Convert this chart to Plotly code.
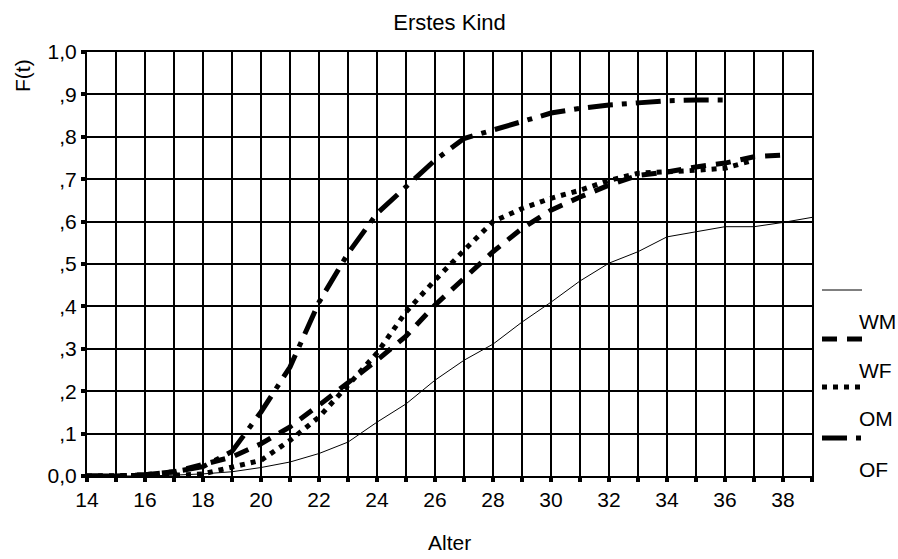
import plotly.graph_objects as go

ages = list(range(14, 40))

# series values (None = no value)
wm = [0.0, 0.0, 0.0, 0.002, 0.005, 0.01, 0.02, 0.033, 0.053, 0.08, 0.127, 0.17, 0.226,
      0.273, 0.311, 0.363, 0.41, 0.46, 0.502, 0.529, 0.564, 0.576, 0.588, 0.588, 0.598, 0.61]
wf = [0.0, 0.0, 0.003, 0.01, 0.027, 0.045, 0.076, 0.116, 0.167, 0.219, 0.273, 0.33, 0.403,
      0.466, 0.529, 0.584, 0.627, 0.658, 0.686, 0.709, 0.717, 0.729, 0.738, 0.753, 0.757, None]
om = [0.0, 0.0, 0.0, 0.002, 0.005, 0.02, 0.037, 0.084, 0.139, 0.214, 0.29, 0.387, 0.462,
      0.532, 0.6, 0.631, 0.655, 0.674, 0.697, 0.714, 0.717, 0.721, 0.726, 0.745, None, None]
of = [0.0, 0.0, 0.003, 0.01, 0.022, 0.058, 0.151, 0.257, 0.41, 0.525, 0.619, 0.682, 0.745,
      0.796, 0.816, 0.835, 0.856, 0.867, 0.875, 0.88, 0.885, 0.887, 0.887, None, None, None]

names = ["WM", "WF", "OM", "OF"]
series = [wm, wf, om, of]
widths = [1, 5, 5, 5]
dashes = ["solid", "15px,10px", "5px,6px", "25px,9px,5px,9px"]

x_tickvals = list(range(14, 40, 2))
y_tickvals = [0.0, 0.1, 0.2, 0.3, 0.4, 0.5, 0.6, 0.7, 0.8, 0.9, 1.0]
y_ticktext = ["0,0", ",1", ",2", ",3", ",4", ",5", ",6", ",7", ",8", ",9", "1,0"]

FONT = "Liberation Sans, Arial, sans-serif"

# plot-area geometry in pixels (for placing legend/labels in paper coordinates)
L, R, T, B = 87, 812, 52, 476
W, H = R - L, B - T


def px(xp):
    return (xp - L) / W


def py(yp):
    return (B - yp) / H


fig = go.Figure()
for n, s, w, d in zip(names, series, widths, dashes):
    fig.add_trace(go.Scatter(
        x=ages, y=s, mode="lines", name=n,
        line=dict(color="black", width=w, dash=d),
        connectgaps=False, showlegend=False,
    ))

# manual legend in the SPSS style: sample line, label beneath/right
shapes = []
annotations = []
leg_line_y = [290, 339, 387, 438]
for i, (n, w, d) in enumerate(zip(names, widths, dashes)):
    yl = leg_line_y[i]
    shapes.append(dict(type="line", xref="paper", yref="paper",
                       x0=px(822), x1=px(862), y0=py(yl), y1=py(yl),
                       line=dict(color="black", width=w, dash=d)))
    annotations.append(dict(text=n, xref="paper", yref="paper",
                            x=px(857), y=py(yl + 31), xanchor="left", yanchor="middle",
                            showarrow=False, font=dict(size=21)))

annotations += [
    dict(text="Alter", xref="paper", yref="paper", x=0.5, y=py(542),
         xanchor="center", yanchor="middle", showarrow=False, font=dict(size=21)),
    dict(text="F(t)", xref="paper", yref="paper", x=px(22), y=py(76),
         xanchor="center", yanchor="middle", textangle=-90, showarrow=False,
         font=dict(size=21)),
]

fig.update_layout(
    width=898, height=559,
    margin=dict(l=L, r=898 - R, t=T, b=559 - B, autoexpand=False),
    plot_bgcolor="white", paper_bgcolor="white",
    font=dict(family=FONT, size=21, color="black"),
    title=dict(text="Erstes Kind", x=0.5, xanchor="center", xref="paper",
               y=1 - 22 / 559, yanchor="middle", yref="container",
               font=dict(size=22)),
    showlegend=False,
    shapes=shapes,
    annotations=annotations,
    xaxis=dict(range=[14, 39], tickvals=x_tickvals, ticktext=[str(v) for v in x_tickvals],
               showgrid=True, gridcolor="black", gridwidth=2,
               showline=True, linecolor="black", linewidth=2, mirror=True,
               ticks="outside", ticklen=4, tickwidth=4, tickcolor="black",
               minor=dict(dtick=1, tick0=14, showgrid=True, gridcolor="black", gridwidth=2,
                          ticks="outside", ticklen=4, tickwidth=4, tickcolor="black"),
               zeroline=False, tickfont=dict(size=21)),
    yaxis=dict(range=[0, 1], tickvals=y_tickvals, ticktext=y_ticktext,
               showgrid=True, gridcolor="black", gridwidth=2,
               showline=True, linecolor="black", linewidth=2, mirror=True,
               ticks="outside", ticklen=4, tickwidth=4, tickcolor="black",
               zeroline=False, tickfont=dict(size=21)),
)

fig.write_html("out.html")
